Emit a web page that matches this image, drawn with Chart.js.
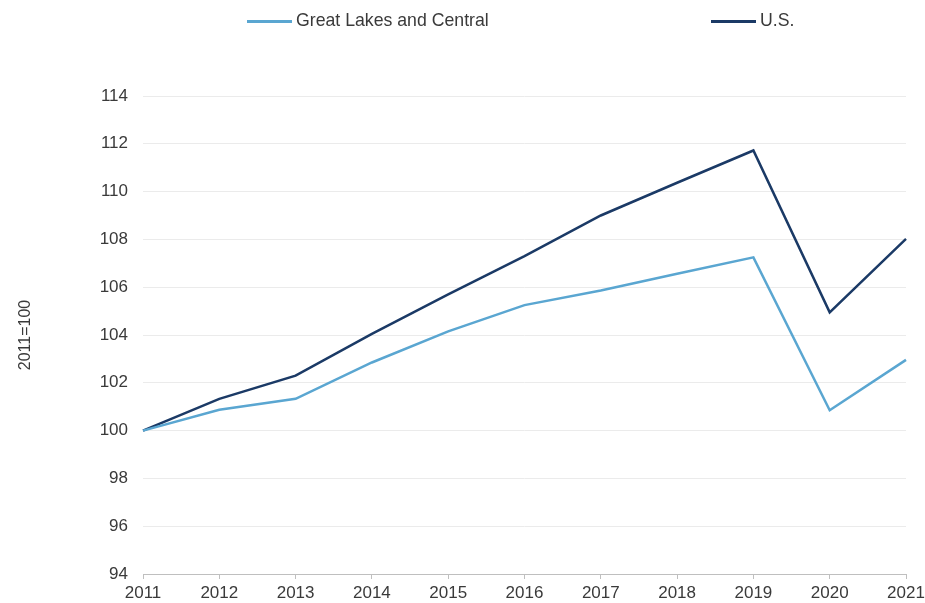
<!DOCTYPE html>
<html>
<head>
<meta charset="utf-8">
<script src="https://cdn.jsdelivr.net/npm/chart.js@4.4.1/dist/chart.umd.min.js"></script>
<style>
  html, body { margin: 0; padding: 0; background: #ffffff; }
  #wrap { width: 925px; height: 603px; position: relative; }
</style>
</head>
<body>
<div id="wrap"><canvas id="c" width="925" height="603"></canvas></div>
<script>
const categories = ['2011','2012','2013','2014','2015','2016','2017','2018','2019','2020','2021'];
const greatLakesCentral = [100, 100.87, 101.33, 102.85, 104.15, 105.25, 105.86, 106.56, 107.25, 100.85, 102.96];
const unitedStates = [100, 101.33, 102.3, 104.05, 105.7, 107.3, 109.0, 110.37, 111.72, 104.95, 108.02];
const seriesNames = ['Great Lakes and Central', 'U.S.'];
const seriesColors = ['#5aa6d1', '#1b3a66'];
const yTitle = '2011=100';
const yMin = 94, yMax = 114, yStep = 2;

const FONT = '"Liberation Sans", Arial, sans-serif';
const TEXT = '#3a3a3a';

const customLegend = {
  id: 'customLegend',
  afterDraw(chart) {
    const ctx = chart.ctx;
    const starts = [247, 711];
    const y = 21.5;
    ctx.save();
    chart.data.datasets.forEach((ds, i) => {
      const x0 = starts[i];
      ctx.strokeStyle = ds.borderColor;
      ctx.lineWidth = 3;
      ctx.beginPath();
      ctx.moveTo(x0, y);
      ctx.lineTo(x0 + 45, y);
      ctx.stroke();
      ctx.fillStyle = TEXT;
      ctx.font = '17.7px ' + FONT;
      ctx.textBaseline = 'middle';
      ctx.textAlign = 'left';
      ctx.fillText(ds.label, x0 + 49, y);
    });
    ctx.restore();
  }
};

new Chart(document.getElementById('c'), {
  type: 'line',
  data: {
    labels: categories,
    datasets: [
      { label: seriesNames[0], data: greatLakesCentral, borderColor: seriesColors[0], backgroundColor: seriesColors[0], borderWidth: 2.5, pointRadius: 0, tension: 0 },
      { label: seriesNames[1], data: unitedStates, borderColor: seriesColors[1], backgroundColor: seriesColors[1], borderWidth: 2.5, pointRadius: 0, tension: 0 }
    ]
  },
  options: {
    responsive: false,
    animation: false,
    devicePixelRatio: 1,
    layout: { padding: { top: 96, left: 0, bottom: 0, right: 0 } },
    plugins: {
      legend: { display: false },
      tooltip: { enabled: false }
    },
    scales: {
      x: {
        offset: false,
        grid: { drawOnChartArea: false, drawTicks: true, tickLength: 5, tickColor: '#bfbfbf' },
        border: { display: true, color: '#bfbfbf', width: 1 },
        ticks: { color: TEXT, font: { family: FONT, size: 17 }, padding: 4, maxRotation: 0, autoSkip: false },
        afterFit(scale) { scale.height = 29; scale.paddingRight = 19; scale.paddingLeft = 0; }
      },
      y: {
        min: yMin, max: yMax,
        grid: { color: '#ebebeb', lineWidth: 1, drawTicks: false },
        border: { display: false },
        ticks: { stepSize: yStep, color: TEXT, font: { family: FONT, size: 17 }, padding: 15 },
        title: { display: true, text: yTitle, color: TEXT, font: { family: FONT, size: 16 }, padding: { top: 16, bottom: 0 } },
        afterFit(scale) { scale.width = 143; }
      }
    }
  },
  plugins: [customLegend]
});
</script>
</body>
</html>
